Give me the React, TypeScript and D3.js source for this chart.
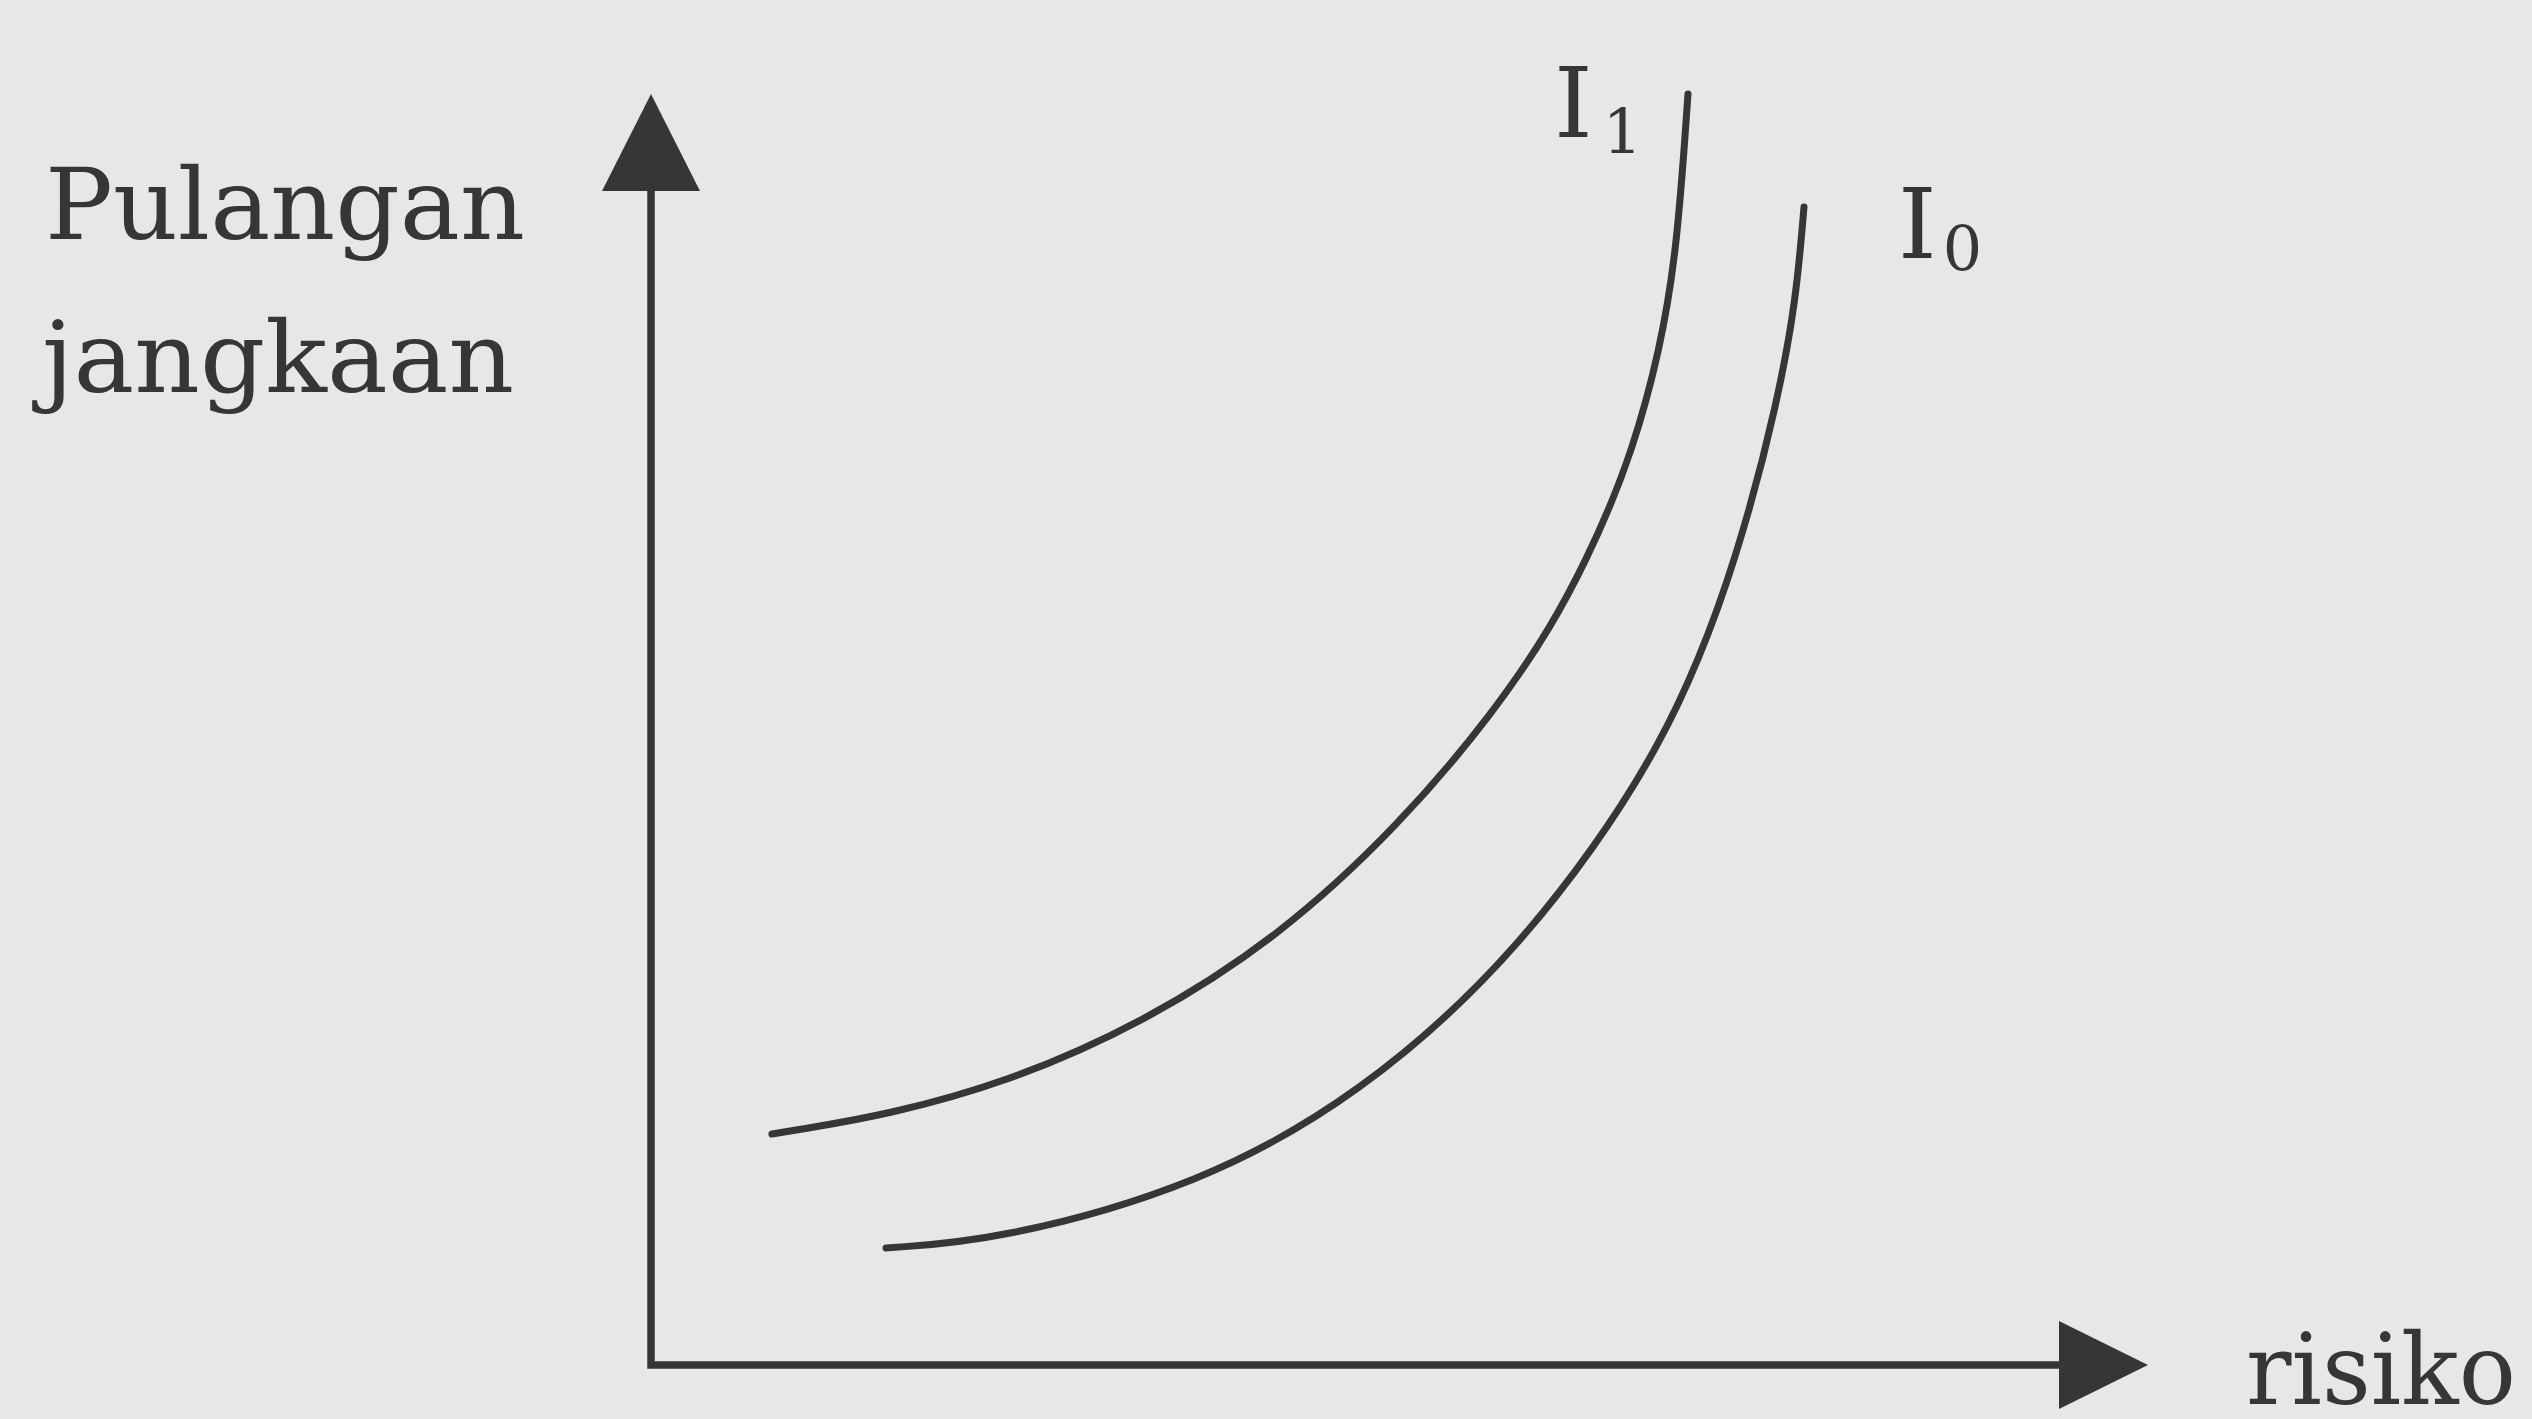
import React, { useEffect } from "react";
import * as d3 from "d3";

const W = 2532;
const H = 1419;

// indifference curve I1 (risk, expected return) in data units 0..100
const i1Risk = [8.08, 23.31, 42.48, 57.52, 62.93, 65.6, 67.4, 68.54, 69.27];
const i1Return = [18.17, 21.16, 32.65, 52.32, 64.12, 71.99, 79.86, 87.73, 100];
// indifference curve I0
const i0Risk = [15.7, 23.31, 36.67, 47.36, 57.92, 68.07, 72.75, 75.28, 76.49, 77.02];
const i0Return = [9.21, 9.83, 14.16, 21.24, 32.26, 48.94, 64.12, 75.92, 83.79, 91.11];

const yLabelLines = ["Pulangan", "jangkaan"];
const xLabel = "risiko";
const curveLabels = [
  { main: "I", sub: "1" },
  { main: "I", sub: "0" },
];

const INK = "#363636";
const BG = "#e7e7e5";
const FONT = "'DejaVu Serif', 'Liberation Serif', serif";

export default function App() {
  useEffect(() => {
    document.body.style.margin = "0";
    document.body.style.background = BG;
  }, []);

  const x = d3.scaleLinear().domain([0, 100]).range([651, 2148]);
  const y = d3.scaleLinear().domain([0, 100]).range([1365, 94]);

  const line = d3
    .line<[number, number]>()
    .x((d) => x(d[0]))
    .y((d) => y(d[1]))
    .curve(d3.curveBasis);

  const p1 = line(i1Risk.map((r, i) => [r, i1Return[i]] as [number, number])) || "";
  const p0 = line(i0Risk.map((r, i) => [r, i0Return[i]] as [number, number])) || "";

  const ox = x(0);
  const oy = y(0);
  const yTip = y(100);
  const xTip = x(100);

  return (
    <svg width={W} height={H} style={{ display: "block", background: BG }}>
      <rect x={0} y={0} width={W} height={H} fill={BG} />
      {/* axes */}
      <path
        d={`M${ox},${yTip + 80} L${ox},${oy} L${xTip - 70},${oy}`}
        fill="none"
        stroke={INK}
        strokeWidth={7.5}
        strokeLinejoin="miter"
      />
      <path d={`M${ox},${yTip} L${ox - 49},${yTip + 97} L${ox + 49},${yTip + 97} Z`} fill={INK} />
      <path d={`M${xTip},${oy} L${xTip - 89},${oy - 44} L${xTip - 89},${oy + 44} Z`} fill={INK} />

      {/* curves */}
      <path d={p1} fill="none" stroke={INK} strokeWidth={7} strokeLinecap="round" />
      <path d={p0} fill="none" stroke={INK} strokeWidth={7} strokeLinecap="round" />

      {/* axis labels */}
      <text x={45} y={239} fontFamily={FONT} fontSize={100} fill={INK} textLength={480} lengthAdjust="spacingAndGlyphs">
        {yLabelLines[0]}
      </text>
      <text x={42} y={392} fontFamily={FONT} fontSize={100} fill={INK} textLength={472} lengthAdjust="spacingAndGlyphs">
        {yLabelLines[1]}
      </text>
      <text x={2246} y={1404} fontFamily={FONT} fontSize={100} fill={INK} textLength={270} lengthAdjust="spacingAndGlyphs">
        {xLabel}
      </text>

      {/* curve labels */}
      <text x={1554} y={137} fontFamily={FONT} fontSize={98} fill={INK}>
        {curveLabels[0].main}
        <tspan dx={10} dy={16} fontSize={62}>{curveLabels[0].sub}</tspan>
      </text>
      <text x={1898} y={258} fontFamily={FONT} fontSize={98} fill={INK}>
        {curveLabels[1].main}
        <tspan dx={6} dy={12} fontSize={62}>{curveLabels[1].sub}</tspan>
      </text>
    </svg>
  );
}
